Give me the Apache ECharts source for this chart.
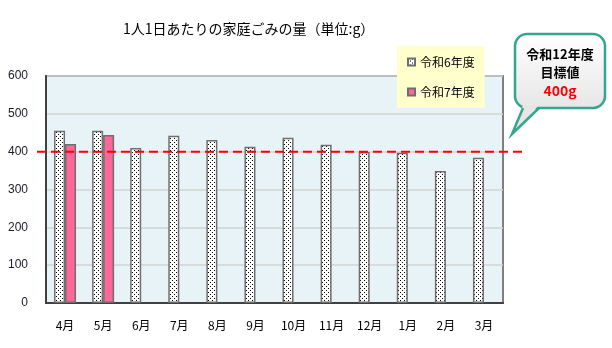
<!DOCTYPE html>
<html><head><meta charset="utf-8">
<script src="https://cdn.jsdelivr.net/npm/echarts@6/dist/echarts.min.js"></script>
<style>html,body{margin:0;padding:0;background:#fff}#c{width:612px;height:348px}</style>
</head><body><div id="c"></div>
<script>
const months = ['4月','5月','6月','7月','8月','9月','10月','11月','12月','1月','2月','3月'];
const r6 = [455,455,410,442,431,413,437,418,399,397,349,384];
const r7 = [420,444,null,null,null,null,null,null,null,null,null,null];
const target = 400;
const yMin = 0, yMax = 600, yStep = 100;
const seriesNames = ['令和6年度','令和7年度'];
const titleText = '1人1日あたりの家庭ごみの量（単位:g）';
const calloutLines = ['令和12年度','目標値','400g'];

function dotPattern(){
  const c = document.createElement('canvas');
  c.width = 4; c.height = 4;
  const ctx = c.getContext('2d');
  ctx.fillStyle = '#fff'; ctx.fillRect(0,0,4,4);
  ctx.fillStyle = '#000';
  ctx.fillRect(0,0,1,1); ctx.fillRect(2,2,1,1);
  return c;
}
const pat = {image: dotPattern(), repeat: 'repeat'};
const font = '"Noto Sans CJK JP", sans-serif';
const grad = {type:'linear',x:0,y:0,x2:0,y2:1,colorStops:[{offset:0,color:'#FFFFFF'},{offset:1,color:'#E6E6E6'}]};

const chart = echarts.init(document.getElementById('c'), null, {renderer:'canvas'});
chart.setOption({
  animation:false,
  title:{text:titleText,left:118,top:17,textStyle:{fontSize:14,fontWeight:'normal',color:'#000',fontFamily:font}},
  legend:{
    orient:'vertical', left:397, top:46, backgroundColor:'#FFFFCC',
    padding:[10,10,10,10], itemGap:18, itemWidth:7, itemHeight:7, icon:'rect',
    textStyle:{fontSize:12,color:'#000',fontFamily:font},
    data:seriesNames
  },
  grid:[
    {left:46,right:109,top:76,bottom:45,show:true,backgroundColor:'#E8F3F8',borderColor:'#7F7F7F',borderWidth:2},
    {left:37,right:89,top:76,bottom:45,show:false}
  ],
  xAxis:[
    {type:'category',data:months,gridIndex:0,
     axisLine:{lineStyle:{color:'#404040',width:2}},axisTick:{show:false},
     axisLabel:{margin:16,fontSize:12,color:'#000',fontFamily:font}},
    {type:'value',gridIndex:1,min:0,max:1,show:false}
  ],
  yAxis:[
    {type:'value',gridIndex:0,min:yMin,max:yMax,interval:yStep,
     axisLine:{show:true,lineStyle:{color:'#404040',width:2}},axisTick:{show:false},
     axisLabel:{margin:18,fontSize:12,color:'#1a1a2a',fontFamily:'"Liberation Sans", Arial, sans-serif'},
     splitLine:{lineStyle:{color:'#D3D3D3',width:1.5}}},
    {type:'value',gridIndex:1,min:yMin,max:yMax,show:false}
  ],
  series:[
    {name:seriesNames[0],type:'bar',data:r6,barWidth:11,barGap:'0%',
     itemStyle:{color:pat,borderColor:'#6E6E6E',borderWidth:1.5}},
    {name:seriesNames[1],type:'bar',data:r7,barWidth:11,barGap:'0%',
     itemStyle:{color:'#FF6699',borderColor:'#6E6E6E',borderWidth:1.5}},
    {name:'target',type:'line',xAxisIndex:1,yAxisIndex:1,data:[[0,target],[1,target]],
     symbol:'none',z:10,lineStyle:{color:'#FF0000',width:2,type:[9,5]},silent:true}
  ],
  graphic:[
    {type:'rect',z:20,shape:{x:515,y:34,width:90,height:74,r:12},
     style:{fill:grad,stroke:'#33A591',lineWidth:2.5}},
    {type:'polygon',z:21,shape:{points:[[523,105],[512,134],[539,105]]},style:{fill:'#E6E6E6',stroke:null}},
    {type:'polyline',z:22,shape:{points:[[523,108],[512,134],[539,108]]},style:{fill:null,stroke:'#33A591',lineWidth:2.5}},
    {type:'text',z:23,style:{text:calloutLines[0],x:560,y:48,textAlign:'center',font:'bold 13px '+font,fill:'#000'}},
    {type:'text',z:23,style:{text:calloutLines[1],x:560,y:66,textAlign:'center',font:'bold 13px '+font,fill:'#000'}},
    {type:'text',z:23,style:{text:calloutLines[2],x:560,y:84,textAlign:'center',font:'bold 14px '+font,fill:'#FF0000'}}
  ]
});
</script></body></html>
